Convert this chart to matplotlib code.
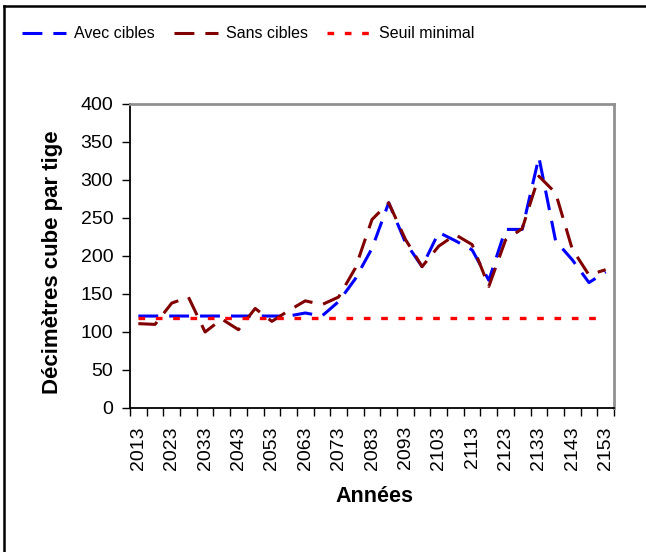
import numpy as np
import matplotlib
matplotlib.use('Agg')
from matplotlib import pyplot as plt
from matplotlib.lines import Line2D

plt.rcParams['font.family'] = ['Liberation Sans', 'DejaVu Sans']

# one point every 5 years, labels every 10 years
years = list(range(2013, 2154, 5))
avec_cibles = [121, 121, 121, 121, 121, 121, 121, 121, 121, 121,
               125, 121, 140, 170, 210, 270, 218, 186, 231, 220,
               208, 168, 235, 235, 330, 220, 195, 165, 179]
sans_cibles = [111, 110, 138, 146, 100, 117, 103, 131, 114, 128,
               141, 136, 146, 184, 248, 270, 222, 186, 213, 228,
               215, 160, 221, 236, 305, 283, 209, 175, 182]
seuil = 119
tick_labels = [str(y) for y in years[::2]]

x = np.arange(len(years))

fig = plt.figure(figsize=(6.46, 5.52), dpi=100)
ax = fig.add_axes([130/646, 1 - 408/552, 484/646, 304/552])

l1, = ax.plot(x, avec_cibles, color='#0000FF', lw=2.2, dashes=(6.5, 3.6),
              dash_capstyle='butt', label='Avec cibles')
l2, = ax.plot(x, sans_cibles, color='#800000', lw=2.2, dashes=(6.5, 3.6),
              dash_capstyle='butt', label='Sans cibles')
l3, = ax.plot(x, [seuil] * len(years), color='#FF0000', lw=2.4, dashes=(2.0, 3.2),
              dash_capstyle='butt', label='Seuil minimal')

ax.set_xlim(-0.5, len(years) - 0.5)
ax.set_ylim(0, 400)
ax.set_yticks(range(0, 401, 50))
ax.set_xticks(x[::2])
ax.set_xticklabels(tick_labels, rotation=90)
ax.set_xticks(np.arange(-0.5, len(years), 1), minor=True)

ax.tick_params(axis='y', length=6, width=1, pad=6, labelsize=14, colors='black')
ax.tick_params(axis='x', which='major', length=0, pad=13, labelsize=14)
ax.tick_params(axis='x', which='minor', length=6, width=1)

for side in ['left', 'bottom']:
    ax.spines[side].set_color('black')
    ax.spines[side].set_linewidth(1.3)
for side in ['top', 'right']:
    ax.spines[side].set_color('#909090')
    ax.spines[side].set_linewidth(2)

fig.text(53/646, 1 - 262/552, 'Décimètres cube par tige', rotation=90,
         ha='center', va='center', fontsize=16, fontweight='bold')
fig.text(374/646, 1 - 497/552, 'Années', ha='center', va='center',
         fontsize=15.5, fontweight='bold')

fig.legend(handles=[l1, l2, l3], loc='center left',
           bbox_to_anchor=(22/646, 1 - 34/552), ncol=3, frameon=False,
           fontsize=11.5, handlelength=2.75, handletextpad=0.5,
           columnspacing=1.2, borderaxespad=0, borderpad=0)

# chart area border (only left and top visible)
fig.add_artist(Line2D([4/646, 4/646], [0, 1 - 5.5/552], color='black', lw=1.8))
fig.add_artist(Line2D([4/646, 1], [1 - 5.5/552, 1 - 5.5/552], color='black', lw=1.8))

fig.savefig('out.png', dpi=100)
